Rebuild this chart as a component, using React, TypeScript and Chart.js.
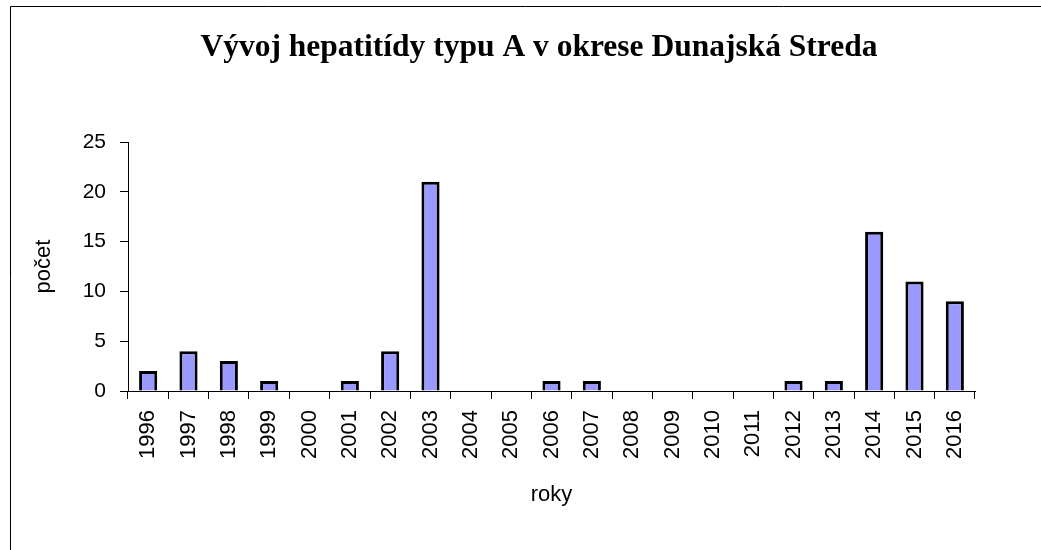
import React, { useEffect, useRef } from "react";
import { Chart, registerables } from "chart.js";

Chart.register(...registerables);

const years = ["1996","1997","1998","1999","2000","2001","2002","2003","2004","2005","2006","2007","2008","2009","2010","2011","2012","2013","2014","2015","2016"];
const cases = [2, 4, 3, 1, 0, 1, 4, 21, 0, 0, 1, 1, 0, 0, 0, 0, 1, 1, 16, 11, 9];
const titleText = "Vývoj hepatitídy typu A v okrese Dunajská Streda";
const yTitle = "počet";
const xTitle = "roky";

const framePlugin = {
  id: "frameAndTitle",
  afterDraw(chart: any) {
    const ctx = chart.ctx;
    ctx.save();
    ctx.strokeStyle = "#000";
    ctx.lineWidth = 1;
    ctx.beginPath();
    ctx.moveTo(10.5, 550);
    ctx.lineTo(10.5, 6.5);
    ctx.lineTo(1041, 6.5);
    ctx.stroke();
    ctx.fillStyle = "#000";
    ctx.font = "bold 31.5px 'Liberation Serif', 'Times New Roman', serif";
    ctx.textAlign = "center";
    ctx.textBaseline = "middle";
    ctx.fillText(titleText, 539, 48);
    ctx.restore();
  },
};

export default function App() {
  const ref = useRef<HTMLCanvasElement | null>(null);
  useEffect(() => {
    document.body.style.margin = "0";
    const canvas = ref.current!;
    const chart = new Chart(canvas, {
      type: "bar",
      data: {
        labels: years,
        datasets: [
          {
            data: cases,
            backgroundColor: "#9999FF",
            borderColor: "#000000",
            borderWidth: 3,
            barPercentage: 0.45,
            categoryPercentage: 1,
          },
        ],
      },
      options: {
        responsive: false,
        animation: false,
        devicePixelRatio: 1,
        layout: { padding: { top: 142, left: 0, right: 66, bottom: 0 } },
        plugins: { legend: { display: false }, tooltip: { enabled: false }, title: { display: false } },
        scales: {
          x: {
            grid: { display: true, drawOnChartArea: false, drawTicks: true, tickLength: 8, color: "#000", offset: true },
            border: { display: true, color: "#000", width: 1 },
            ticks: {
              color: "#000",
              minRotation: 90,
              maxRotation: 90,
              padding: 11,
              font: { family: "'Liberation Sans', Arial, sans-serif", size: 22 },
            },
            title: {
              display: true,
              text: xTitle,
              color: "#000",
              font: { family: "'Liberation Sans', Arial, sans-serif", size: 22 },
              padding: { top: 0, bottom: 42 },
            },
            afterFit: (s: any) => { s.height = 159; },
          },
          y: {
            min: 0,
            max: 25,
            grid: { display: true, drawOnChartArea: false, drawTicks: true, tickLength: 8, color: "#000" },
            border: { display: true, color: "#000", width: 1 },
            ticks: {
              stepSize: 5,
              color: "#000",
              padding: 14,
              font: { family: "'Liberation Sans', Arial, sans-serif", size: 21 },
            },
            title: {
              display: true,
              text: yTitle,
              color: "#000",
              font: { family: "'Liberation Sans', Arial, sans-serif", size: 22 },
              padding: { top: 31, bottom: 0 },
            },
            afterFit: (s: any) => { s.width = 128; },
          },
        },
      },
      plugins: [framePlugin],
    });
    return () => chart.destroy();
  }, []);
  return <canvas ref={ref} width={1041} height={550} style={{ display: "block" }} />;
}
